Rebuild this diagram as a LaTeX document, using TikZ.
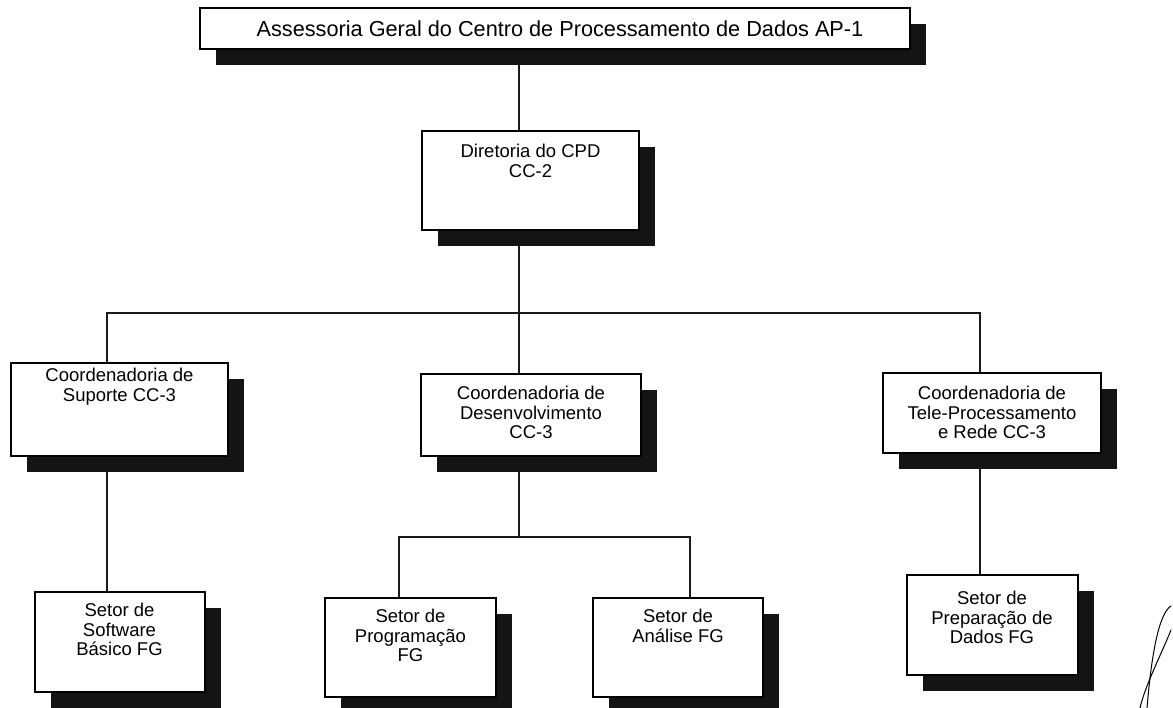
\documentclass[tikz,border=0pt]{standalone}
\usepackage{fontspec}
\setmainfont{Liberation Sans}
\usetikzlibrary{shadows}
\pgfdeclarelayer{background}
\pgfsetlayers{background,main}
\begin{document}
\begin{tikzpicture}[x=1pt,y=-1pt,
  orgbox/.style={draw=black, line width=2pt, fill=white, rectangle, inner sep=0pt,
    drop shadow={shadow xshift=16pt, shadow yshift=-16pt, fill=black!92, opacity=1}},
  boxtext/.style={anchor=north, inner sep=0pt, align=center,
    font=\fontsize{18.5}{19.5}\selectfont},
  link/.style={line width=2pt, draw=black!90},
  sig/.style={line width=1pt, draw=black, line cap=round}]
\useasboundingbox (0,0) rectangle (1173,708);

% boxes of the chart
\node[orgbox, minimum width=710pt, minimum height=41pt] (top) at (555,28.5) {};
\node[orgbox, minimum width=217pt, minimum height=99pt] (dir) at (530.5,180.5) {};
\node[orgbox, minimum width=217pt, minimum height=93pt] (sup) at (119.5,409.5) {};
\node[orgbox, minimum width=220pt, minimum height=82pt] (des) at (531,415) {};
\node[orgbox, minimum width=218pt, minimum height=80pt] (tele) at (992,413) {};
\node[orgbox, minimum width=170pt, minimum height=100pt] (soft) at (119.5,642) {};
\node[orgbox, minimum width=171pt, minimum height=99pt] (prog) at (410.5,647.5) {};
\node[orgbox, minimum width=170pt, minimum height=99pt] (anal) at (678,647.5) {};
\node[orgbox, minimum width=171pt, minimum height=100pt] (prep) at (992,625) {};

% texts of the boxes
\node[inner sep=0pt, font=\fontsize{21.7}{24}\selectfont] (top-t) at ([xshift=5pt]top.center)
  {Assessoria Geral do Centro de Processamento de Dados AP-1};
\node[boxtext] (dir-t) at ([yshift=-14pt]dir.north) {Diretoria do CPD\\CC-2};
\node[boxtext] (sup-t) at ([yshift=-6pt]sup.north) {Coordenadoria de\\Suporte CC-3};
\node[boxtext] (des-t) at ([yshift=-13pt]des.north) {Coordenadoria de\\Desenvolvimento\\CC-3};
\node[boxtext] (tele-t) at ([yshift=-14pt]tele.north) {Coordenadoria de\\Tele-Processamento\\e Rede CC-3};
\node[boxtext] (soft-t) at ([yshift=-12pt]soft.north) {Setor de\\Software\\Básico FG};
\node[boxtext] (prog-t) at ([yshift=-12pt]prog.north) {Setor de\\Programação\\FG};
\node[boxtext] (anal-t) at ([yshift=-12pt]anal.north) {Setor de\\Análise FG};
\node[boxtext] (prep-t) at ([yshift=-17pt]prep.north) {Setor de\\Preparação de\\Dados FG};

% connectors, kept behind the boxes and their shadows
\coordinate (bus) at (519,313.5);
\coordinate (sub) at (519,537);
\begin{pgfonlayer}{background}
\fill[white] (0,0) rectangle (1173,708);
\draw[link] ([xshift=-36pt]top.south) -- ([xshift=-11.5pt]dir.north);
\draw[link] ([xshift=-11.5pt]dir.south) -- (bus);
\draw[link] ([xshift=-12.5pt]sup.north) |- (bus) -| ([xshift=-12pt]tele.north);
\draw[link] (bus) -- ([xshift=-12pt]des.north);
\draw[link] ([xshift=-12.5pt]sup.south) -- ([xshift=-12.5pt]soft.north);
\draw[link] ([xshift=-12pt]des.south) -- (sub);
\draw[link] ([xshift=-11.5pt]prog.north) |- (sub) -| ([xshift=12pt]anal.north);
\draw[link] ([xshift=-12pt]tele.south) -- ([xshift=-12pt]prep.north);
\end{pgfonlayer}

% handwritten initials at the lower right
\draw[sig] (1171,606) .. controls (1158,614) and (1151,660) .. (1147,708);
\draw[sig] (1171,630) .. controls (1160,657) and (1145,686) .. (1140,708);
\end{tikzpicture}
\end{document}
